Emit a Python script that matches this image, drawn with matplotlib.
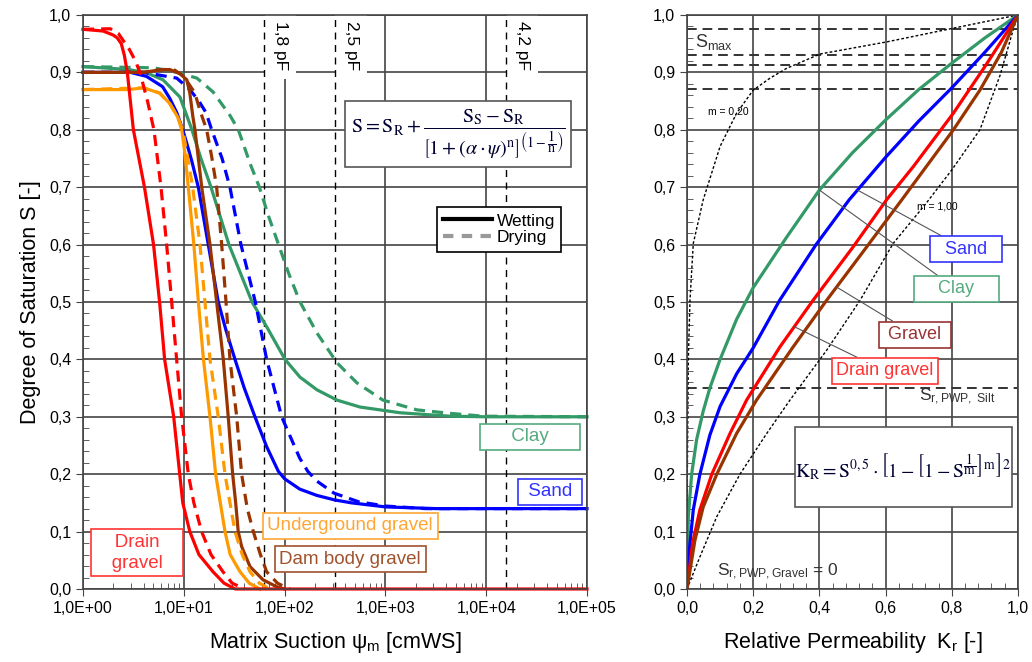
import numpy as np
import matplotlib
matplotlib.use('Agg')
import matplotlib.pyplot as plt
from matplotlib.lines import Line2D
from matplotlib.patches import Rectangle
from matplotlib.ticker import FuncFormatter, MultipleLocator, LogLocator, NullFormatter

plt.rcParams['font.family'] = ['Liberation Sans', 'DejaVu Sans']
plt.rcParams['mathtext.fontset'] = 'custom'
plt.rcParams['mathtext.rm'] = 'Liberation Sans'
plt.rcParams['mathtext.it'] = 'Liberation Sans:italic'
plt.rcParams['mathtext.bf'] = 'Liberation Sans:bold'

# --- left chart: retention curves, log10(psi [cmWS]) and saturation S ---
drain_wet_lg = [0, 0.20, 0.30, 0.34, 0.38, 0.41, 0.44, 0.50, 0.61, 0.70, 0.76, 0.81, 0.90,
                0.96, 0.99, 1.06, 1.15, 1.29, 1.40, 1.51, 5.0]
drain_wet_s = [0.975, 0.972, 0.965, 0.96, 0.95, 0.93, 0.90, 0.80, 0.70, 0.60, 0.50, 0.40, 0.30,
               0.20, 0.15, 0.10, 0.06, 0.03, 0.01, 0.0, 0.0]
drain_dry_lg = [0, 0.27, 0.35, 0.46, 0.52, 0.565, 0.64, 0.704, 0.774, 0.83, 0.88, 0.929, 0.979,
                1.045, 1.10, 1.177, 1.27, 1.389, 1.48, 1.607]
drain_dry_s = [0.975, 0.976, 0.968, 0.94, 0.92, 0.90, 0.85, 0.80, 0.70, 0.60, 0.50, 0.40, 0.30,
               0.20, 0.15, 0.10, 0.06, 0.03, 0.01, 0.0]

under_wet_lg = [0, 0.45, 0.60, 0.76, 0.86, 0.94, 0.98, 1.01, 1.045, 1.10, 1.145, 1.195, 1.26,
                1.316, 1.409, 1.46, 1.558, 1.65, 1.756]
under_wet_s = [0.87, 0.87, 0.873, 0.864, 0.846, 0.822, 0.80, 0.76, 0.70, 0.60, 0.50, 0.40, 0.30,
               0.20, 0.10, 0.06, 0.03, 0.01, 0.0]
under_dry_lg = [0, 0.60, 0.76, 0.86, 0.94, 0.99, 1.04, 1.088, 1.161, 1.21, 1.26, 1.342, 1.409,
                1.508, 1.58, 1.657, 1.75, 1.855]
under_dry_s = [0.87, 0.873, 0.864, 0.846, 0.822, 0.80, 0.75, 0.70, 0.60, 0.50, 0.40, 0.30, 0.20,
               0.10, 0.06, 0.03, 0.01, 0.0]

dam_wet_lg = [0, 0.60, 0.75, 0.86, 0.96, 1.03, 1.06, 1.09, 1.111, 1.178, 1.26, 1.326, 1.392,
              1.441, 1.485, 1.515, 1.54, 1.574, 1.657, 1.786, 1.92, 2.0]
dam_wet_s = [0.90, 0.90, 0.904, 0.905, 0.898, 0.887, 0.864, 0.823, 0.80, 0.70, 0.60, 0.50, 0.40,
             0.30, 0.20, 0.15, 0.10, 0.074, 0.039, 0.016, 0.004, 0.0]
dam_dry_lg = [0, 0.60, 0.78, 0.90, 1.00, 1.11, 1.16, 1.227, 1.277, 1.326, 1.376, 1.419, 1.458,
              1.525, 1.574, 1.63, 1.69, 1.76, 1.822, 1.93, 2.05]
dam_dry_s = [0.90, 0.90, 0.905, 0.905, 0.893, 0.864, 0.834, 0.80, 0.753, 0.70, 0.60, 0.50, 0.40,
             0.30, 0.20, 0.14, 0.10, 0.06, 0.03, 0.01, 0.0]

sand_wet_lg = [0, 0.47, 0.63, 0.79, 0.86, 0.93, 0.99, 1.04, 1.08, 1.144, 1.243, 1.342, 1.42,
               1.508, 1.60, 1.706, 1.822, 1.938, 2.0, 2.15, 2.32, 2.5, 2.665, 3.0, 3.5, 5.0]
sand_wet_s = [0.90, 0.90, 0.893, 0.875, 0.855, 0.83, 0.80, 0.77, 0.745, 0.70, 0.60, 0.50, 0.45,
              0.40, 0.35, 0.30, 0.248, 0.205, 0.192, 0.174, 0.163, 0.155, 0.15, 0.143, 0.14,
              0.14]
sand_dry_lg = [0, 0.60, 0.93, 1.06, 1.15, 1.22, 1.277, 1.38, 1.458, 1.567, 1.71, 1.822, 1.971,
               2.07, 2.15, 2.23, 2.32, 2.49, 2.733, 3.0, 3.4, 5.0]
sand_dry_s = [0.90, 0.90, 0.89, 0.87, 0.85, 0.83, 0.80, 0.75, 0.70, 0.60, 0.50, 0.40, 0.30,
              0.26, 0.228, 0.205, 0.188, 0.167, 0.152, 0.1445, 0.14, 0.14]

clay_wet_lg = [0, 0.45, 0.635, 0.794, 0.962, 1.081, 1.17, 1.27, 1.448, 1.677, 1.825, 2.004,
               2.153, 2.321, 2.52, 2.748, 3.145, 3.64, 4.0, 5.0]
clay_wet_s = [0.91, 0.905, 0.899, 0.887, 0.857, 0.80, 0.75, 0.70, 0.60, 0.50, 0.456, 0.40,
              0.369, 0.347, 0.329, 0.317, 0.307, 0.301, 0.30, 0.30]
clay_dry_lg = [0, 0.70, 0.93, 1.13, 1.29, 1.458, 1.541, 1.587, 1.66, 1.75, 1.84, 1.94, 2.04,
               2.153, 2.321, 2.52, 2.718, 2.976, 3.313, 3.64, 3.968, 5.0]
clay_dry_s = [0.91, 0.908, 0.90, 0.89, 0.866, 0.825, 0.80, 0.777, 0.74, 0.70, 0.65, 0.60, 0.55,
              0.50, 0.446, 0.394, 0.359, 0.329, 0.312, 0.306, 0.301, 0.30]

pf_values = [1.8, 2.5, 4.2]
pf_labels = ['1,8 pF', '2,5 pF', '4,2 pF']

# --- right chart: relative permeability Kr and saturation S ---
clay_kr = [0, 0.002, 0.004, 0.014, 0.029, 0.049, 0.069, 0.1, 0.15, 0.2, 0.3, 0.4, 0.5, 0.6,
           0.7, 0.8, 0.9, 1.0]
clay_s = [0, 0.06, 0.126, 0.20, 0.26, 0.31, 0.35, 0.40, 0.47, 0.525, 0.612, 0.695, 0.76,
          0.817, 0.87, 0.916, 0.96, 1.0]
sand_kr = [0, 0.007, 0.019, 0.039, 0.069, 0.1, 0.15, 0.2, 0.28, 0.39, 0.49, 0.6, 0.7, 0.8,
           0.9, 1.0]
sand_s = [0, 0.068, 0.138, 0.20, 0.268, 0.318, 0.375, 0.42, 0.503, 0.60, 0.678, 0.752, 0.815,
          0.873, 0.935, 1.0]
drain_kr = [0, 0.017, 0.039, 0.075, 0.13, 0.18, 0.281, 0.381, 0.502, 0.603, 0.684, 0.805, 0.9,
            0.946, 1.0]
drain_s = [0, 0.08, 0.138, 0.20, 0.271, 0.329, 0.422, 0.503, 0.596, 0.678, 0.736, 0.829, 0.91,
           0.951, 1.0]
gravel_kr = [0, 0.024, 0.049, 0.09, 0.15, 0.21, 0.321, 0.422, 0.543, 0.649, 0.805, 0.885, 0.95,
             1.0]
gravel_s = [0, 0.085, 0.143, 0.20, 0.271, 0.329, 0.422, 0.503, 0.596, 0.678, 0.80, 0.869, 0.935,
            1.0]
m020_kr = [0, 0.001, 0.004, 0.009, 0.019, 0.049, 0.1, 0.15, 0.2, 0.251, 0.301, 0.402, 0.603,
           0.805, 1.0]
m020_s = [0, 0.2, 0.4, 0.503, 0.602, 0.678, 0.771, 0.829, 0.869, 0.89, 0.907, 0.932, 0.953,
          0.977, 1.0]
m100_kr = [0, 0.039, 0.09, 0.16, 0.241, 0.311, 0.422, 0.523, 0.623, 0.72, 0.80, 0.885, 0.946,
           0.986, 1.0]
m100_s = [0, 0.056, 0.126, 0.20, 0.271, 0.329, 0.416, 0.503, 0.602, 0.67, 0.73, 0.80, 0.895,
          0.975, 1.0]
smax_levels = [0.975, 0.931, 0.912, 0.871]
s_silt = 0.35

RED, ORANGE, BROWN, BLUE, GREEN = '#ff0000', '#ff9900', '#993300', '#0000ff', '#339966'
GRID = '#444444'
DASH = (0, (3.5, 2.2))

comma1 = FuncFormatter(lambda v, p: f'{v:.1f}'.replace('.', ','))
sci = FuncFormatter(lambda v, p: f'{v:.1E}'.replace('.', ','))

fig = plt.figure(figsize=(10.32, 6.62), dpi=100)
ax1 = fig.add_axes([0.0804, 0.1103, 0.4884, 0.8671])
ax2 = fig.add_axes([0.6657, 0.1103, 0.3207, 0.8671])

for ax in (ax1, ax2):
    ax.set_axisbelow(True)
    ax.grid(True, which='major', color=GRID, lw=1.2)
    for sp in ax.spines.values():
        sp.set_color(GRID)
        sp.set_linewidth(1.2)
    ax.tick_params(which='major', direction='out', length=5, color=GRID, labelsize=11.5)
    ax.tick_params(which='minor', direction='in', length=4, color=GRID)
    ax.set_ylim(0, 1)
    ax.yaxis.set_major_locator(MultipleLocator(0.1))
    ax.yaxis.set_minor_locator(MultipleLocator(0.02))
    ax.yaxis.set_major_formatter(comma1)

# left chart
ax1.set_xscale('log')
ax1.set_xlim(1, 1e5)
ax1.xaxis.set_major_locator(LogLocator(base=10, numticks=10))
ax1.xaxis.set_minor_locator(LogLocator(base=10, subs=np.arange(2, 10), numticks=20))
ax1.xaxis.set_minor_formatter(NullFormatter())
ax1.xaxis.set_major_formatter(sci)

for v, lab in zip(pf_values, pf_labels):
    ax1.axvline(10 ** v, color='black', lw=1, ls=(0, (5, 4)), zorder=1.5)
    ax1.text(10 ** (v + 0.16), 0.946, lab, rotation=270, ha='center', va='center', fontsize=12.5,
             zorder=1.4, bbox=dict(fc='white', ec='none', pad=6))

curves = [
    (clay_wet_lg, clay_wet_s, clay_dry_lg, clay_dry_s, GREEN),
    (sand_wet_lg, sand_wet_s, sand_dry_lg, sand_dry_s, BLUE),
    (dam_wet_lg, dam_wet_s, dam_dry_lg, dam_dry_s, BROWN),
    (under_wet_lg, under_wet_s, under_dry_lg, under_dry_s, ORANGE),
    (drain_wet_lg, drain_wet_s, drain_dry_lg, drain_dry_s, RED),
]
for wl, ws, dl, ds, c in curves:
    ax1.plot(10 ** np.array(dl), ds, color=c, lw=2.3, ls=DASH, clip_on=False)
    ax1.plot(10 ** np.array(wl), ws, color=c, lw=2.3, clip_on=False)

ax1.set_xlabel(r'Matrix Suction $\mathrm{\psi_m}$ [cmWS]', fontsize=15.5, labelpad=10)
ax1.set_ylabel('Degree of Saturation S [-]', fontsize=15.5, labelpad=6)

ax1.text(10 ** 3.72, 0.792,
         r'$\mathrm{S} = \mathrm{S_R} + \dfrac{\mathrm{S_S} - \mathrm{S_R}}'
         r'{\left[1+(\alpha\cdot\psi)^{\mathrm{n}}\right]^{\left(1-\dfrac{1}{\mathrm{n}}\right)}}$',
         math_fontfamily='stix', fontsize=14.5, color='#000033', ha='center', va='center',
         bbox=dict(boxstyle='square,pad=0.3', fc='white', ec='#555555', lw=1.2))

handles = [Line2D([], [], color='black', lw=3), Line2D([], [], color='#999999', lw=3, ls=(0, (2.5, 2)))]
leg = ax1.legend(handles, ['Wetting', 'Drying'], loc='upper right', bbox_to_anchor=(0.966, 0.68),
                 fontsize=12.5, frameon=True, fancybox=False, framealpha=1, edgecolor='black',
                 handlelength=2.8, labelspacing=0.1, borderpad=0.35, handletextpad=0.3)
leg.get_frame().set_linewidth(1.2)

def box_label(ax, x, y, txt, color, **kw):
    ax.text(x, y, txt, color=color, fontsize=13.5, ha='center', va='center',
            bbox=dict(boxstyle='square,pad=0.25', fc='white', ec=color, lw=1.2), **kw)

box_label(ax1, 10 ** 0.536, 0.063, '   Drain   \n   gravel   ', '#ff3333', linespacing=1.3,
          multialignment='center')
box_label(ax1, 10 ** 2.649, 0.110, 'Underground gravel', '#ffa634')
box_label(ax1, 10 ** 2.649, 0.052, 'Dam body gravel', '#a0522d')
box_label(ax1, 10 ** 4.435, 0.265, '     Clay     ', '#55aa80')
box_label(ax1, 10 ** 4.633, 0.169, ' Sand ', '#3333ff')

# right chart
ax2.set_xlim(0, 1)
ax2.xaxis.set_major_locator(MultipleLocator(0.2))
ax2.xaxis.set_minor_locator(MultipleLocator(0.04))
ax2.xaxis.set_major_formatter(comma1)

for lev in smax_levels:
    ax2.axhline(lev, color='#333333', lw=1.4, ls=(0, (5, 3)), zorder=1.5)
ax2.axhline(s_silt, color='#333333', lw=1.4, ls=(0, (5, 3)), zorder=1.5)

ax2.plot(m020_kr, m020_s, color='black', lw=1, ls=(0, (2, 1.5)))
ax2.plot(m100_kr, m100_s, color='black', lw=1, ls=(0, (2, 1.5)))
ax2.plot(clay_kr, clay_s, color=GREEN, lw=2.3)
ax2.plot(sand_kr, sand_s, color=BLUE, lw=2.3)
ax2.plot(drain_kr, drain_s, color=RED, lw=2.3)
ax2.plot(gravel_kr, gravel_s, color=BROWN, lw=2.3)

ax2.set_xlabel(r'Relative Permeability  $\mathrm{K_r}$ [-]', fontsize=15.5, labelpad=10)

ax2.text(0.025, 0.953, r'S$_{\mathrm{max}}$', fontsize=13, ha='left', va='center', color='#333333')
ax2.text(0.063, 0.831, 'm = 0,20', fontsize=7.5, ha='left', va='center')
ax2.text(0.695, 0.667, 'm = 1,00', fontsize=7.5, ha='left', va='center')
ax2.text(0.70, 0.334, r'S$_{\mathrm{r,PWP,\ Silt}}$', fontsize=12.5, ha='left', va='center', color='#333333')
ax2.text(0.09, 0.03, r'S$_{\mathrm{r,PWP,Gravel}}$ = 0', fontsize=12.5, ha='left', va='center', color='#333333')

# formula box on the right chart
ax2.add_patch(Rectangle((0.326, 0.143), 0.656, 0.139, transform=ax2.transAxes,
                        fc='white', ec='#555555', lw=1.2, zorder=3))
ax2.text(0.654, 0.2125,
         r'$\mathrm{K_R} = \mathrm{S}^{0,5}\cdot\left[1-\left[1-\mathrm{S}^{\dfrac{1}{\mathrm{m}}}\right]^{\mathrm{m}}\right]^{2}$',
         math_fontfamily='stix', fontsize=14, color='#000033', ha='center', va='center', zorder=4)

def lead_label(ax, xy, xytext, txt, color):
    ax.annotate(txt, xy=xy, xytext=xytext, color=color, fontsize=13, ha='center', va='center',
                bbox=dict(boxstyle='square,pad=0.25', fc='white', ec=color, lw=1.2),
                arrowprops=dict(arrowstyle='-', color='#555555', lw=0.8, shrinkA=0, shrinkB=0))

lead_label(ax2, (0.515, 0.695), (0.843, 0.592), '  Sand  ', '#3333ff')
lead_label(ax2, (0.40, 0.695), (0.813, 0.523), '    Clay    ', '#55aa80')
lead_label(ax2, (0.452, 0.526), (0.689, 0.443), ' Gravel ', '#993333')
lead_label(ax2, (0.324, 0.457), (0.598, 0.380), 'Drain gravel', '#ff3333')

fig.savefig('out.png', dpi=100)
